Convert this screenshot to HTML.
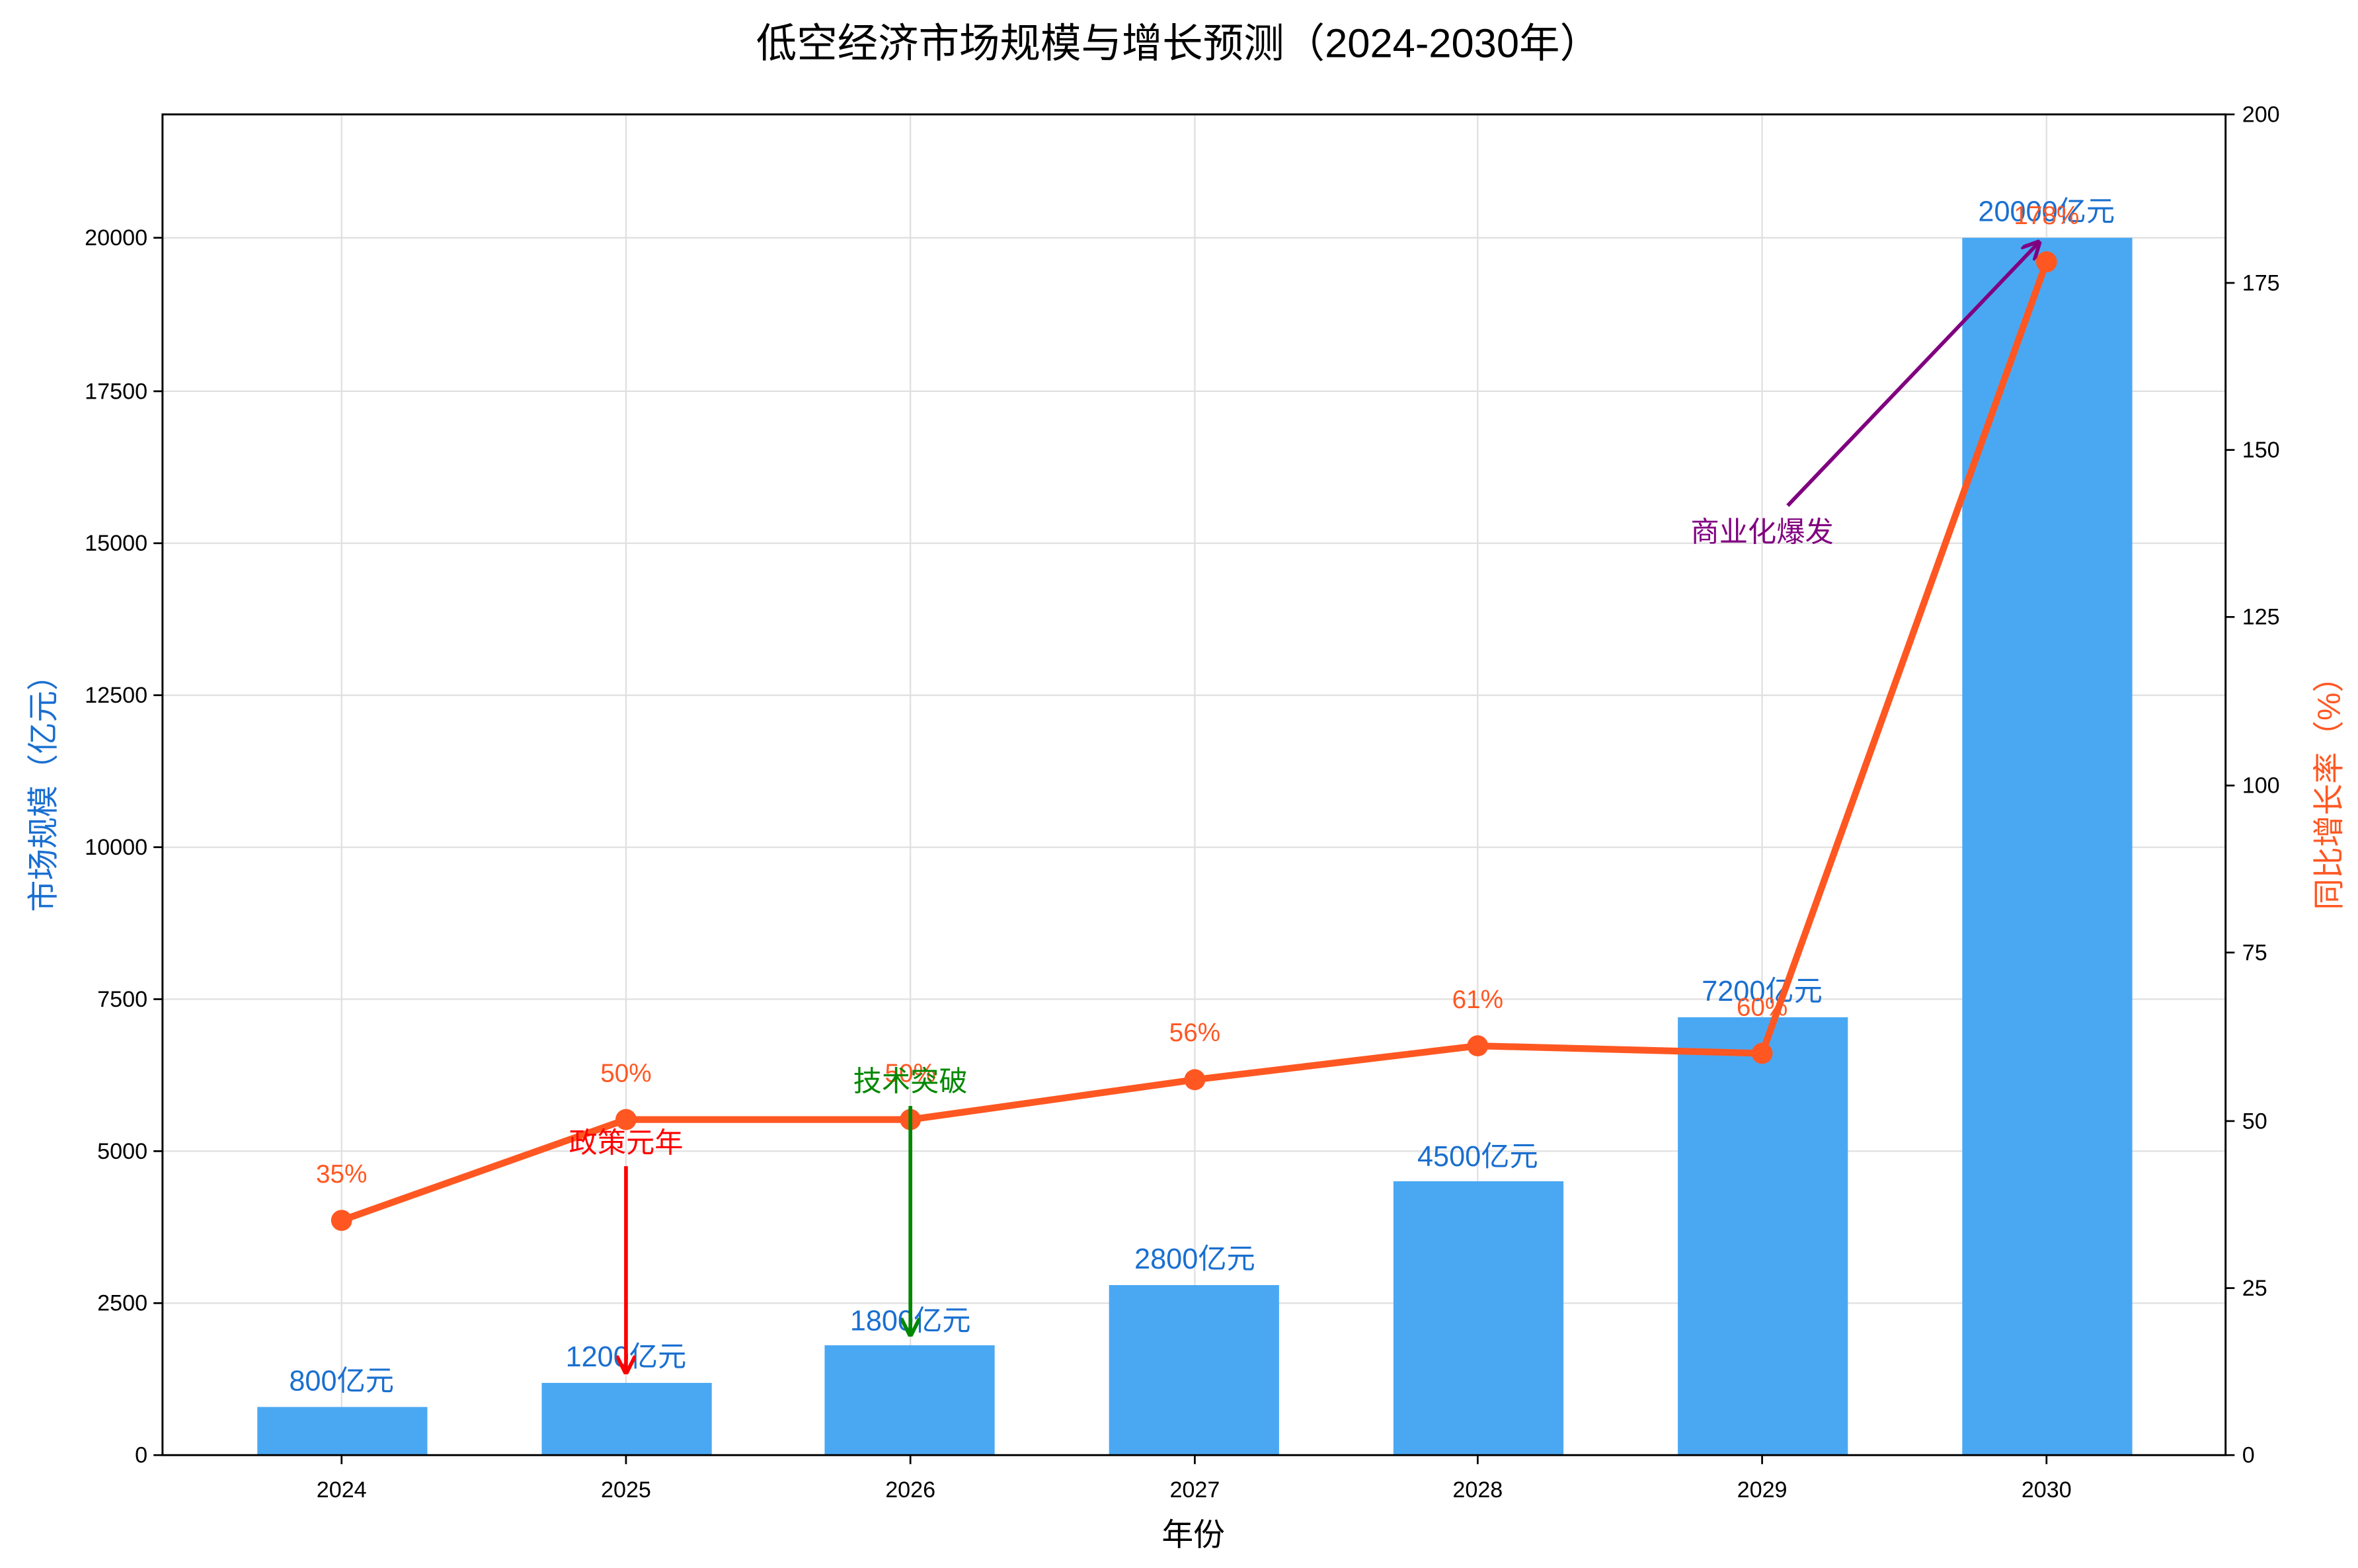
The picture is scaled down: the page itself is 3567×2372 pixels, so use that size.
<!DOCTYPE html>
<html><head><meta charset="utf-8"><style>
html,body{margin:0;padding:0;background:#fff;}
svg{display:block;}
text{font-family:"Liberation Sans","Noto Sans CJK SC",sans-serif;}
</style></head><body>
<svg width="3567" height="2372" viewBox="0 0 1567 1042" xmlns="http://www.w3.org/2000/svg">
<defs>
<marker id="ar" viewBox="0 0 10 10" refX="9" refY="5" markerWidth="5" markerHeight="5" orient="auto"><path d="M0,0 L10,5 L0,10" fill="none" stroke="context-stroke" stroke-width="2"/></marker>
</defs>
<rect width="1567" height="1042" fill="#fff"/>
<text x="783" y="38" font-size="27" text-anchor="middle" fill="#000">低空经济市场规模与增长预测（2024-2030年）</text>
<!-- grid -->
<g stroke="#e0e0e0" stroke-width="1">
<line x1="227" y1="76" x2="227" y2="967"/><line x1="416" y1="76" x2="416" y2="967"/><line x1="605" y1="76" x2="605" y2="967"/><line x1="794" y1="76" x2="794" y2="967"/><line x1="982" y1="76" x2="982" y2="967"/><line x1="1171" y1="76" x2="1171" y2="967"/><line x1="1360" y1="76" x2="1360" y2="967"/>
<line x1="108" y1="866" x2="1479" y2="866"/><line x1="108" y1="765" x2="1479" y2="765"/><line x1="108" y1="664" x2="1479" y2="664"/><line x1="108" y1="563" x2="1479" y2="563"/><line x1="108" y1="462" x2="1479" y2="462"/><line x1="108" y1="361" x2="1479" y2="361"/><line x1="108" y1="260" x2="1479" y2="260"/><line x1="108" y1="158" x2="1479" y2="158"/>
</g>
<!-- bars -->
<g fill="#4aa8f3">
<rect x="171" y="935" width="113" height="32"/>
<rect x="360" y="919" width="113" height="48"/>
<rect x="548" y="894" width="113" height="73"/>
<rect x="737" y="854" width="113" height="113"/>
<rect x="926" y="785" width="113" height="182"/>
<rect x="1115" y="676" width="113" height="291"/>
<rect x="1304" y="158" width="113" height="809"/>
</g>
<g font-size="19" fill="#1a6fd0" text-anchor="middle">
<text x="227" y="924">800亿元</text><text x="416" y="908">1200亿元</text><text x="605" y="884">1800亿元</text><text x="794" y="843">2800亿元</text><text x="982" y="775">4500亿元</text><text x="1171" y="665">7200亿元</text><text x="1360" y="147">20000亿元</text>
</g>
<!-- line -->
<polyline points="227,811 416,744 605,744 794,717.5 982,695 1171,700 1360,174" fill="none" stroke="#ff5722" stroke-width="4.5" stroke-linejoin="round"/>
<g fill="#ff5722">
<circle cx="227" cy="811" r="7"/><circle cx="416" cy="744" r="7"/><circle cx="605" cy="744" r="7"/><circle cx="794" cy="717.5" r="7"/><circle cx="982" cy="695" r="7"/><circle cx="1171" cy="700" r="7"/><circle cx="1360" cy="174" r="7"/>
</g>
<g font-size="17" fill="#ff5722" text-anchor="middle">
<text x="227" y="786">35%</text><text x="416" y="719">50%</text><text x="605" y="719">50%</text><text x="794" y="692">56%</text><text x="982" y="670">61%</text><text x="1171" y="675">60%</text><text x="1360" y="149">178%</text>
</g>
<!-- annotations -->
<line x1="416" y1="775" x2="416" y2="912" stroke="#f00" stroke-width="2.5" marker-end="url(#ar)"/>
<text x="416" y="766" font-size="19" fill="#f00" text-anchor="middle">政策元年</text>
<line x1="605" y1="735" x2="605" y2="887" stroke="#080" stroke-width="2.5" marker-end="url(#ar)"/>
<text x="605" y="725" font-size="19" fill="#080" text-anchor="middle">技术突破</text>
<line x1="1188" y1="336" x2="1355" y2="161" stroke="#800080" stroke-width="2.5" marker-end="url(#ar)"/>
<text x="1171" y="360" font-size="19" fill="#800080" text-anchor="middle">商业化爆发</text>
<!-- axes -->
<rect x="108" y="76" width="1371" height="891" fill="none" stroke="#000" stroke-width="1.3"/>
<g stroke="#000" stroke-width="1.2">
<line x1="227" y1="967" x2="227" y2="973"/><line x1="416" y1="967" x2="416" y2="973"/><line x1="605" y1="967" x2="605" y2="973"/><line x1="794" y1="967" x2="794" y2="973"/><line x1="982" y1="967" x2="982" y2="973"/><line x1="1171" y1="967" x2="1171" y2="973"/><line x1="1360" y1="967" x2="1360" y2="973"/>
<line x1="102" y1="967" x2="108" y2="967"/><line x1="102" y1="866" x2="108" y2="866"/><line x1="102" y1="765" x2="108" y2="765"/><line x1="102" y1="664" x2="108" y2="664"/><line x1="102" y1="563" x2="108" y2="563"/><line x1="102" y1="462" x2="108" y2="462"/><line x1="102" y1="361" x2="108" y2="361"/><line x1="102" y1="260" x2="108" y2="260"/><line x1="102" y1="158" x2="108" y2="158"/>
<line x1="1479" y1="967" x2="1485" y2="967"/><line x1="1479" y1="856" x2="1485" y2="856"/><line x1="1479" y1="745" x2="1485" y2="745"/><line x1="1479" y1="633" x2="1485" y2="633"/><line x1="1479" y1="522" x2="1485" y2="522"/><line x1="1479" y1="410" x2="1485" y2="410"/><line x1="1479" y1="299" x2="1485" y2="299"/><line x1="1479" y1="188" x2="1485" y2="188"/><line x1="1479" y1="76" x2="1485" y2="76"/>
</g>
<g font-size="15" fill="#000" text-anchor="middle">
<text x="227" y="995">2024</text><text x="416" y="995">2025</text><text x="605" y="995">2026</text><text x="794" y="995">2027</text><text x="982" y="995">2028</text><text x="1171" y="995">2029</text><text x="1360" y="995">2030</text>
</g>
<g font-size="15" fill="#000" text-anchor="end">
<text x="98" y="972">0</text><text x="98" y="871">2500</text><text x="98" y="770">5000</text><text x="98" y="669">7500</text><text x="98" y="568">10000</text><text x="98" y="467">12500</text><text x="98" y="366">15000</text><text x="98" y="265">17500</text><text x="98" y="163">20000</text>
</g>
<g font-size="15" fill="#000">
<text x="1490" y="972">0</text><text x="1490" y="861">25</text><text x="1490" y="750">50</text><text x="1490" y="638">75</text><text x="1490" y="527">100</text><text x="1490" y="415">125</text><text x="1490" y="304">150</text><text x="1490" y="193">175</text><text x="1490" y="81">200</text>
</g>
<text x="793" y="1027" font-size="21" text-anchor="middle" fill="#000">年份</text>
<text transform="translate(36,522) rotate(-90)" font-size="21" text-anchor="middle" fill="#1a6fd0">市场规模（亿元）</text>
<text transform="translate(1555,522) rotate(-90)" font-size="21" text-anchor="middle" fill="#ff5722">同比增长率（%）</text>
</svg>
</body></html>
